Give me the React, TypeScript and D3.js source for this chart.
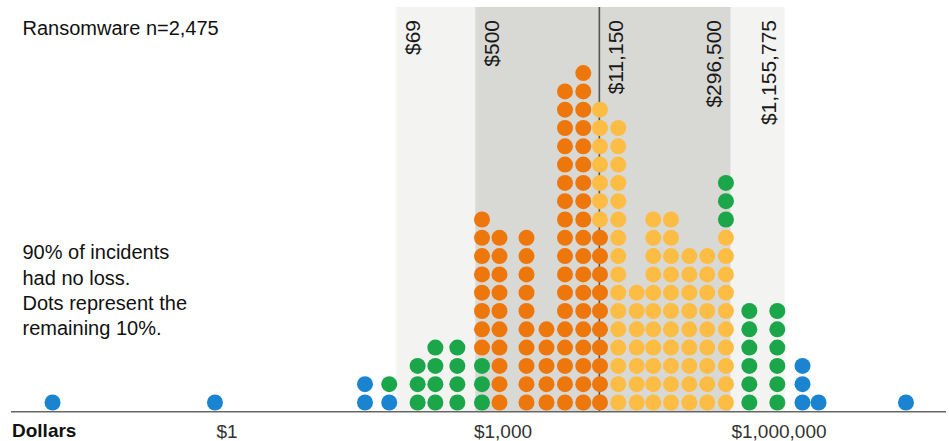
import React from "react";
import * as d3 from "d3";

// ---- Data ----
const title = "Ransomware n=2,475";
const noteLines = ["90% of incidents", "had no loss.", "Dots represent the", "remaining 10%."];
const axisTitle = "Dollars";

const tickValues = [1, 1000, 1000000];
const tickLabels = ["$1", "$1,000", "$1,000,000"];

// percentile markers
const outerBand = [69, 1155775];
const innerBand = [500, 296500];
const medianValue = 11150;
const markerValues = [69, 500, 11150, 296500, 1155775];
const markerLabels = ["$69", "$500", "$11,150", "$296,500", "$1,155,775"];
const markerSide = ["right", "right", "right", "left", "left"];

// dot columns (dollar position of each column)
const columnValues = [
  0.0127, 0.74, 31.6, 58, 118, 184, 319, 591, 916, 1800, 2970, 4720, 7460,
  11330, 17900, 28400, 43000, 67000, 106000, 166000, 265000, 476000, 959000,
  1800000, 2690000, 24000000,
];
// dots per column, by range (stacked bottom to top in this order)
const belowOuterCounts = [1, 1, 2, 1, 0, 0, 0, 0, 0, 0, 0, 0, 0, 0, 0, 0, 0, 0, 0, 0, 0, 0, 0, 0, 0, 0];
const lowerBandCounts = [0, 0, 0, 1, 3, 4, 4, 3, 0, 0, 0, 0, 0, 0, 0, 0, 0, 0, 0, 0, 0, 0, 0, 0, 0, 0];
const belowMedianCounts = [0, 0, 0, 0, 0, 0, 0, 8, 10, 10, 5, 18, 19, 10, 0, 0, 0, 0, 0, 0, 0, 0, 0, 0, 0, 0];
const aboveMedianCounts = [0, 0, 0, 0, 0, 0, 0, 0, 0, 0, 0, 0, 0, 7, 16, 7, 11, 11, 9, 9, 10, 0, 0, 0, 0, 0];
const upperBandCounts = [0, 0, 0, 0, 0, 0, 0, 0, 0, 0, 0, 0, 0, 0, 0, 0, 0, 0, 0, 0, 3, 6, 6, 0, 0, 0];
const aboveOuterCounts = [0, 0, 0, 0, 0, 0, 0, 0, 0, 0, 0, 0, 0, 0, 0, 0, 0, 0, 0, 0, 0, 0, 0, 3, 1, 1];

const seriesCounts = [
  belowOuterCounts,
  lowerBandCounts,
  belowMedianCounts,
  aboveMedianCounts,
  upperBandCounts,
  aboveOuterCounts,
];
const seriesColors = ["#1b84d0", "#1ca64a", "#ee770c", "#fdbd45", "#1ca64a", "#1b84d0"];

const FONT = "'Liberation Sans', Arial, Helvetica, sans-serif";

export default function App() {
  const W = 949;
  const H = 441;
  const x = d3.scaleLog().domain([1, 1e6]).range([227, 779]);
  const y = d3.scaleLinear().domain([0, 18]).range([402.5, 73.1]);
  const r = 8;
  const bandTop = 7;
  const axisY = 411.7;

  const dots: { cx: number; cy: number; fill: string; key: string }[] = [];
  columnValues.forEach((v, i) => {
    let level = 0;
    seriesCounts.forEach((counts, s) => {
      for (let k = 0; k < counts[i]; k++) {
        dots.push({ cx: x(v), cy: y(level), fill: seriesColors[s], key: `${i}-${level}` });
        level++;
      }
    });
  });

  return (
    <svg
      width={W}
      height={H}
      style={{ position: "absolute", left: 0, top: 0, background: "#fff" }}
      fontFamily={FONT}
    >
      <rect x={0} y={0} width={W} height={H} fill="#fff" />
      {/* bands */}
      <rect
        x={x(outerBand[0])}
        y={bandTop}
        width={x(outerBand[1]) - x(outerBand[0])}
        height={axisY - bandTop}
        fill="#f3f3f1"
      />
      <rect
        x={x(innerBand[0])}
        y={bandTop}
        width={x(innerBand[1]) - x(innerBand[0])}
        height={axisY - bandTop}
        fill="#d8d8d5"
      />
      {/* median line */}
      <line
        x1={x(medianValue)}
        x2={x(medianValue)}
        y1={bandTop}
        y2={axisY}
        stroke="#555"
        strokeWidth={1.6}
      />
      {/* marker labels */}
      {markerValues.map((v, i) => {
        const bx = markerSide[i] === "right" ? x(v) + 24 : x(v) - 9;
        return (
          <text
            key={markerLabels[i]}
            transform={`translate(${bx},20) rotate(-90)`}
            textAnchor="end"
            fontSize={21}
            fill="#1a1a1a"
          >
            {markerLabels[i]}
          </text>
        );
      })}
      {/* dots */}
      {dots.map((d) => (
        <circle key={d.key} cx={d.cx} cy={d.cy} r={r} fill={d.fill} />
      ))}
      {/* axis */}
      <line x1={11} x2={946} y1={axisY} y2={axisY} stroke="#666" strokeWidth={1.5} />
      {tickValues.map((t, i) => (
        <text key={t} x={x(t)} y={438} textAnchor="middle" fontSize={19} fill="#333">
          {tickLabels[i]}
        </text>
      ))}
      <text x={12} y={437} fontSize={19} fontWeight="bold" fill="#111">
        {axisTitle}
      </text>
      {/* title and note */}
      <text x={22.5} y={35} fontSize={20} fill="#111">
        {title}
      </text>
      {noteLines.map((l, i) => (
        <text key={i} x={22.5} y={259.3 + i * 25.3} fontSize={20} fill="#111">
          {l}
        </text>
      ))}
    </svg>
  );
}
